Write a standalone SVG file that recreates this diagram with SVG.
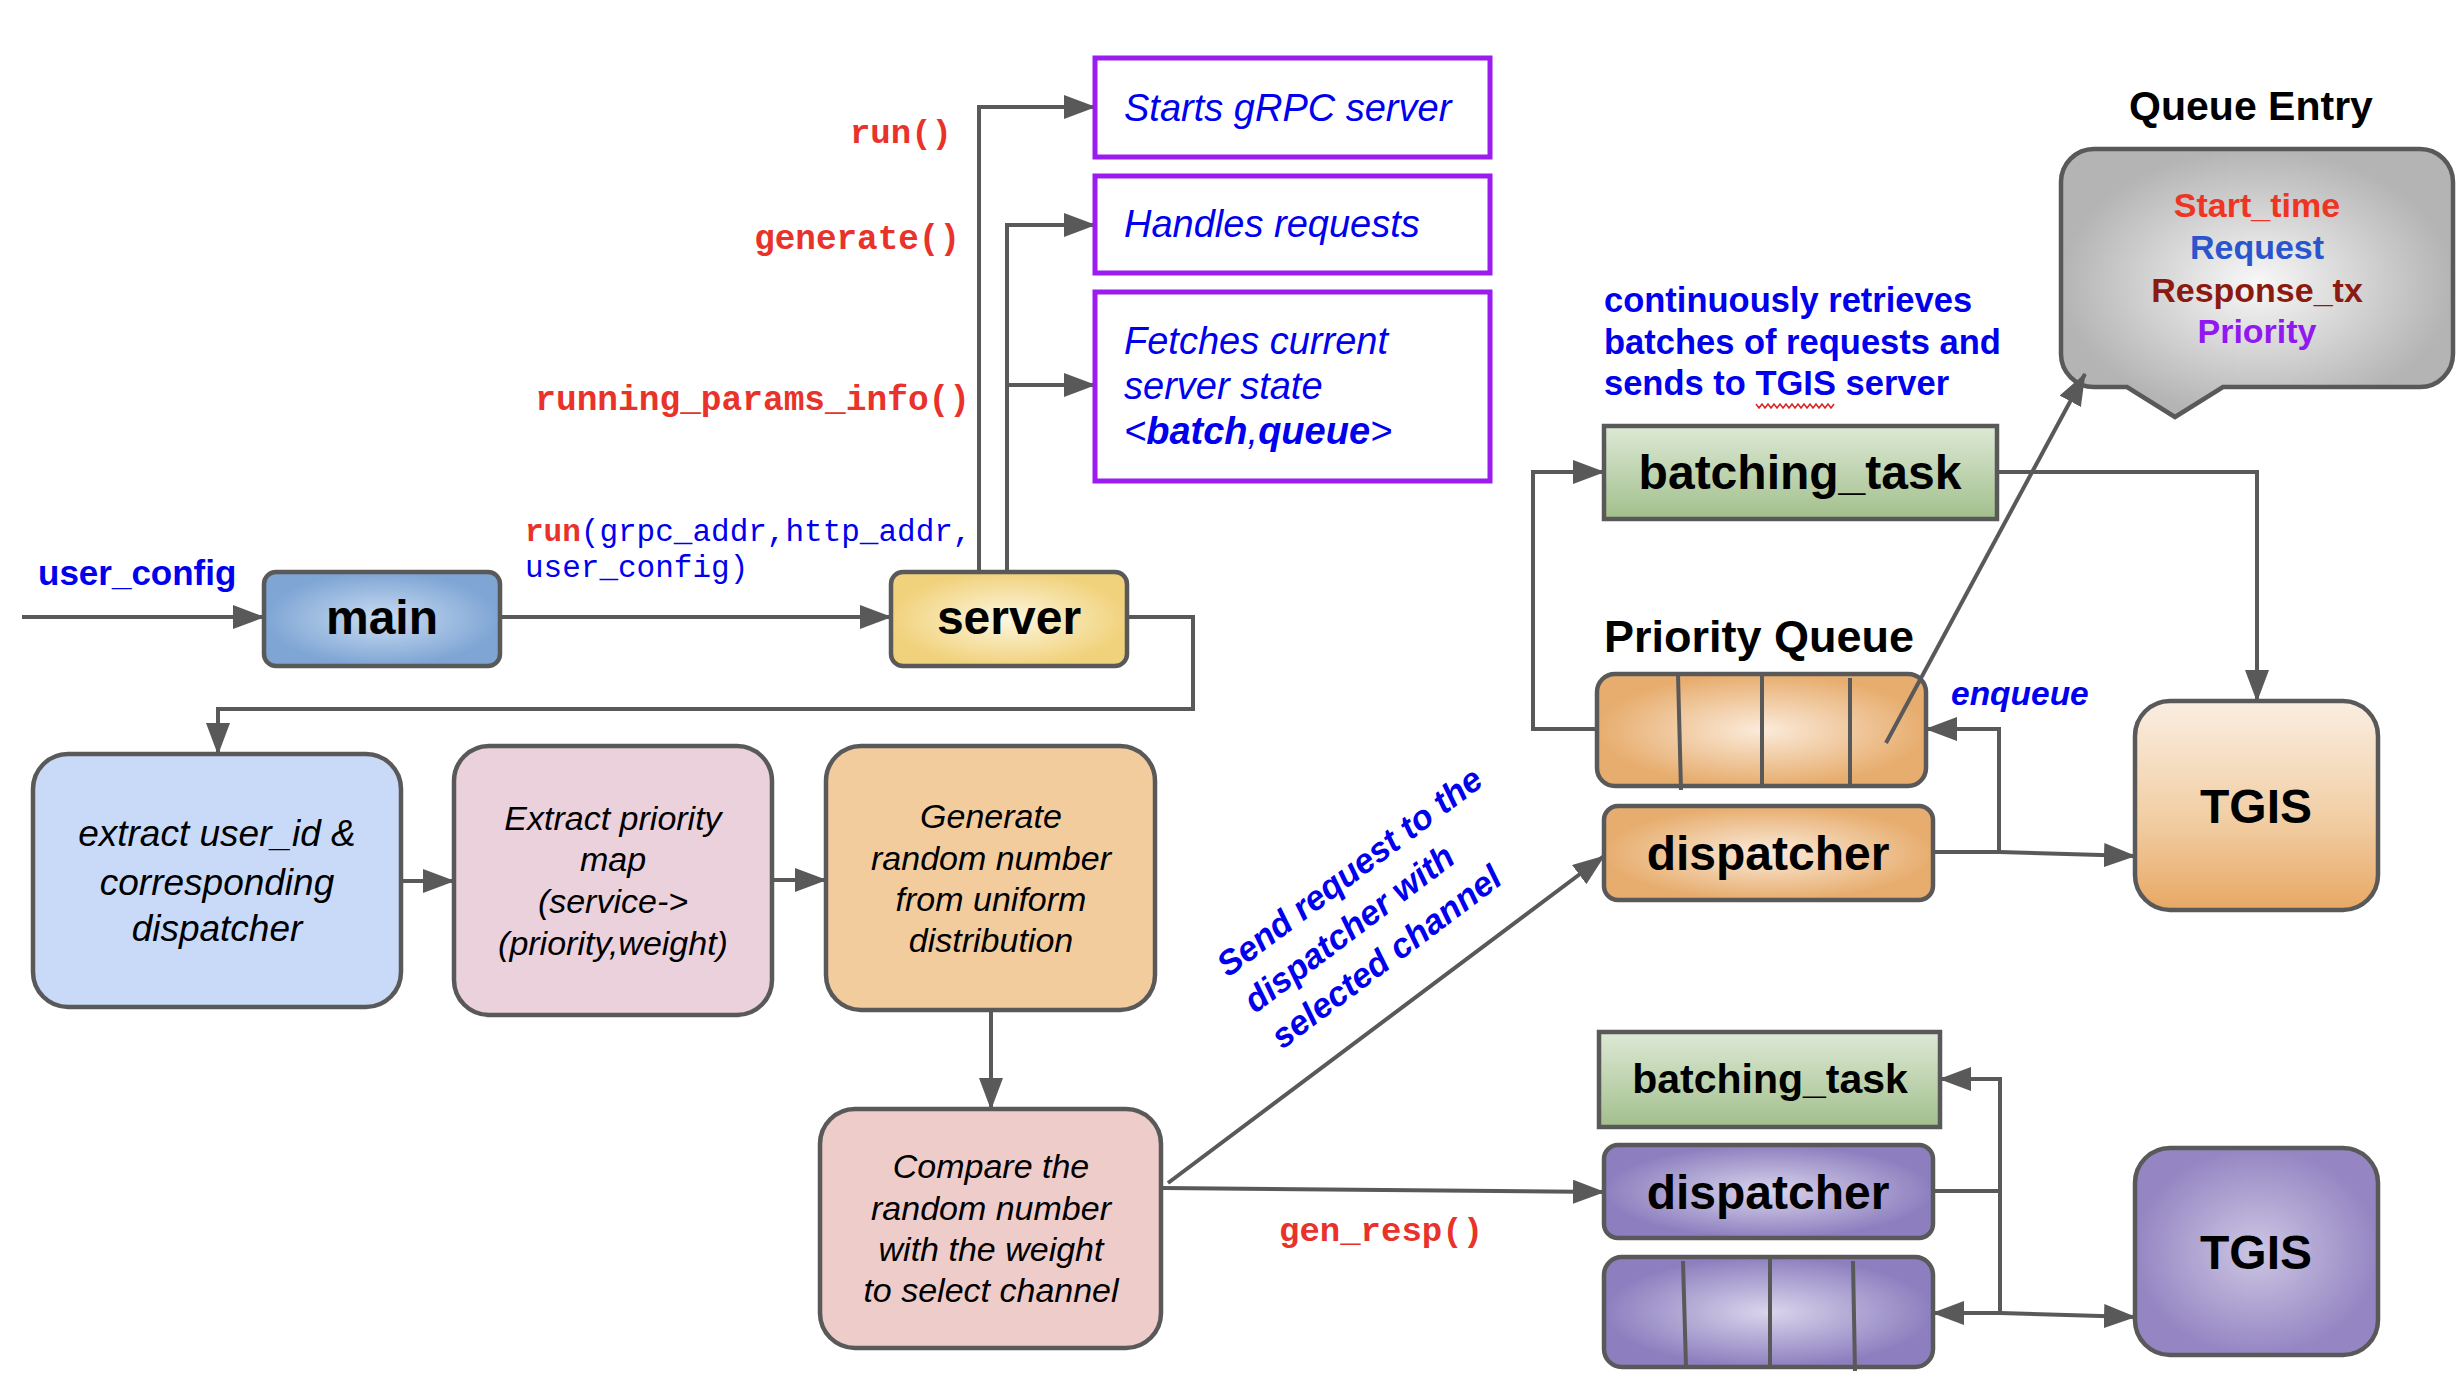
<svg xmlns="http://www.w3.org/2000/svg" width="2464" height="1374" viewBox="0 0 2464 1374">
<style>
.conn{stroke:#595959;stroke-width:4;fill:none}
.nd{stroke:#595959;stroke-width:4.5}
.pb{fill:#ffffff;stroke:#9a1cf0;stroke-width:5}
.sans{font-family:"Liberation Sans",Arial,sans-serif}
.mono{font-family:"Liberation Mono","Courier New",monospace}
.lbl{font-family:"Liberation Sans",Arial,sans-serif;font-weight:bold;font-size:48px;fill:#000;text-anchor:middle}
.it{font-family:"Liberation Sans",Arial,sans-serif;font-style:italic;fill:#000;text-anchor:middle}
.bl{fill:#0000ee}
.red{fill:#e8322a}
</style>
<defs>
<marker id="ah" markerUnits="userSpaceOnUse" markerWidth="32" markerHeight="24" refX="31" refY="12" orient="auto">
<path d="M0,0 L32,12 L0,24 z" fill="#595959"/>
</marker>
<radialGradient id="gMain"><stop offset="0" stop-color="#cadcf2"/><stop offset="1" stop-color="#7ea5d4"/></radialGradient>
<radialGradient id="gServer"><stop offset="0" stop-color="#fdf7e0"/><stop offset="1" stop-color="#f1d27c"/></radialGradient>
<radialGradient id="gOrange"><stop offset="0" stop-color="#fbebdb"/><stop offset="1" stop-color="#e7ad6e"/></radialGradient>
<linearGradient id="gTgisO" x1="0" y1="0" x2="0" y2="1"><stop offset="0" stop-color="#faeee1"/><stop offset="0.55" stop-color="#f2cfa6"/><stop offset="1" stop-color="#e8a865"/></linearGradient>
<linearGradient id="gGreen" x1="0" y1="0" x2="0" y2="1"><stop offset="0" stop-color="#dde9d6"/><stop offset="1" stop-color="#a2bf8c"/></linearGradient>
<radialGradient id="gPurple"><stop offset="0" stop-color="#dad5ec"/><stop offset="1" stop-color="#8d7fbf"/></radialGradient>
<radialGradient id="gTgisP"><stop offset="0" stop-color="#cdc6e3"/><stop offset="1" stop-color="#9586c3"/></radialGradient>
<radialGradient id="gBubble"><stop offset="0" stop-color="#f8f8f8"/><stop offset="1" stop-color="#b4b4b4"/></radialGradient>
</defs>

<rect width="2464" height="1374" fill="#ffffff"/>

<g id="connectors">
<path class="conn" d="M22,617 L264,617" marker-end="url(#ah)"/>
<path class="conn" d="M500,617 L891,617" marker-end="url(#ah)"/>
<path class="conn" d="M979,572 L979,107 L1095,107" marker-end="url(#ah)"/>
<path class="conn" d="M1007,572 L1007,225 L1095,225" marker-end="url(#ah)"/>
<path class="conn" d="M1007,385 L1095,385" marker-end="url(#ah)"/>
<path class="conn" d="M1127,617 L1193,617 L1193,709 L218,709 L218,754" marker-end="url(#ah)"/>
<path class="conn" d="M401,881 L454,881" marker-end="url(#ah)"/>
<path class="conn" d="M772,880 L826,880" marker-end="url(#ah)"/>
<path class="conn" d="M991,1010 L991,1109" marker-end="url(#ah)"/>
<path class="conn" d="M1168,1183 L1604,856" marker-end="url(#ah)"/>
<path class="conn" d="M1163,1188 L1604,1192" marker-end="url(#ah)"/>
<path class="conn" d="M1597,729 L1533,729 L1533,472 L1604,472" marker-end="url(#ah)"/>
<path class="conn" d="M1997,472 L2257,472 L2257,701" marker-end="url(#ah)"/>
<path class="conn" d="M1933,852 L1999,852 L1999,729 L1926,729" marker-end="url(#ah)"/>
<path class="conn" d="M1999,852 L2135,856" marker-end="url(#ah)"/>
<path class="conn" d="M1933,1191 L2000,1191"/>
<path class="conn" d="M2000,1313 L2000,1079 L1940,1079" marker-end="url(#ah)"/>
<path class="conn" d="M2000,1313 L1933,1313" marker-end="url(#ah)"/>
<path class="conn" d="M2000,1313 L2135,1317" marker-end="url(#ah)"/>
</g>

<g id="labels">
<text class="sans bl" x="38" y="585" font-size="35" font-weight="bold">user_config</text>
<text class="mono" x="525" y="541" font-size="31"><tspan class="red" font-weight="bold">run</tspan><tspan class="bl">(grpc_addr,http_addr,</tspan></text>
<text class="mono bl" x="525" y="577" font-size="31">user_config)</text>
<text class="mono red" x="952" y="143" font-size="34" font-weight="bold" text-anchor="end">run()</text>
<text class="mono red" x="960" y="249" font-size="34.3" font-weight="bold" text-anchor="end">generate()</text>
<text class="mono red" x="970" y="410" font-size="34.5" font-weight="bold" text-anchor="end">running_params_info()</text>
<text class="mono red" x="1279" y="1241" font-size="34" font-weight="bold">gen_resp()</text>
<g transform="translate(1228,978) rotate(-37)">
<text class="sans bl" font-size="34.5" font-weight="bold" font-style="italic"><tspan x="0" y="0">Send request to the</tspan><tspan x="0" y="45">dispatcher with</tspan><tspan x="0" y="90">selected channel</tspan></text>
</g>
<text class="sans bl" font-size="34.5" font-weight="bold"><tspan x="1604" y="312">continuously retrieves</tspan><tspan x="1604" y="354">batches of requests and</tspan><tspan x="1604" y="395">sends to TGIS server</tspan></text>
<polyline points="1756,404 1759,408 1762,404 1765,408 1768,404 1771,408 1774,404 1777,408 1780,404 1783,408 1786,404 1789,408 1792,404 1795,408 1798,404 1801,408 1804,404 1807,408 1810,404 1813,408 1816,404 1819,408 1822,404 1825,408 1828,404 1831,408 1834,404" fill="none" stroke="#e02020" stroke-width="1.5"/>
<text class="sans bl" x="1951" y="705" font-size="33.5" font-weight="bold" font-style="italic">enqueue</text>
<text class="sans" x="1604" y="652" font-size="45" font-weight="bold" fill="#000">Priority Queue</text>
<text class="sans" x="2251" y="120" font-size="41" font-weight="bold" fill="#000" text-anchor="middle">Queue Entry</text>
</g>

<g id="main">
<rect class="nd" x="264" y="572" width="236" height="94" rx="12" fill="url(#gMain)"/>
<text class="lbl" x="382" y="634">main</text>
</g>
<g id="server">
<rect class="nd" x="891" y="572" width="236" height="94" rx="12" fill="url(#gServer)"/>
<text class="lbl" x="1009" y="634">server</text>
</g>

<g id="starts-grpc">
<rect class="pb" x="1095" y="58" width="395" height="99"/>
<text class="sans bl" x="1124" y="121" font-size="38" font-style="italic">Starts gRPC server</text>
</g>
<g id="handles-requests">
<rect class="pb" x="1095" y="176" width="395" height="97"/>
<text class="sans bl" x="1124" y="237" font-size="38" font-style="italic">Handles requests</text>
</g>
<g id="fetches-state">
<rect class="pb" x="1095" y="292" width="395" height="189"/>
<text class="sans bl" font-size="38" font-style="italic"><tspan x="1124" y="354">Fetches current</tspan><tspan x="1124" y="399">server state</tspan><tspan x="1124" y="444">&lt;<tspan font-weight="bold">batch</tspan>,<tspan font-weight="bold">queue</tspan>&gt;</tspan></text>
</g>

<g id="extract-user">
<rect class="nd" x="33" y="754" width="368" height="253" rx="35" fill="#c9daf8"/>
<text class="it" font-size="37"><tspan x="217" y="846">extract user_id &amp;</tspan><tspan x="217" y="895">corresponding</tspan><tspan x="217" y="941">dispatcher</tspan></text>
</g>
<g id="extract-priority">
<rect class="nd" x="454" y="746" width="318" height="269" rx="35" fill="#ead1dc"/>
<text class="it" font-size="34"><tspan x="613" y="830">Extract priority</tspan><tspan x="613" y="871">map</tspan><tspan x="613" y="913">(service-&gt;</tspan><tspan x="613" y="955">(priority,weight)</tspan></text>
</g>
<g id="generate-random">
<rect class="nd" x="826" y="746" width="329" height="264" rx="35" fill="#f3cc9e"/>
<text class="it" font-size="34"><tspan x="991" y="828">Generate</tspan><tspan x="991" y="870">random number</tspan><tspan x="991" y="911">from uniform</tspan><tspan x="991" y="952">distribution</tspan></text>
</g>
<g id="compare">
<rect class="nd" x="820" y="1109" width="341" height="239" rx="35" fill="#eeccca"/>
<text class="it" font-size="34"><tspan x="991" y="1178">Compare the</tspan><tspan x="991" y="1220">random number</tspan><tspan x="991" y="1261">with the weight</tspan><tspan x="991" y="1302">to select channel</tspan></text>
</g>

<g id="batching-task-1">
<rect class="nd" x="1604" y="426" width="393" height="93" fill="url(#gGreen)"/>
<text class="lbl" x="1800" y="489">batching_task</text>
</g>
<g id="priority-queue-1">
<rect class="nd" x="1597" y="674" width="329" height="112" rx="18" fill="url(#gOrange)"/>
<line class="conn" x1="1678" y1="674" x2="1681" y2="790"/>
<line class="conn" x1="1762" y1="674" x2="1762" y2="786"/>
<line class="conn" x1="1850" y1="678" x2="1850" y2="786"/>
</g>
<g id="dispatcher-1">
<rect class="nd" x="1604" y="806" width="329" height="94" rx="14" fill="url(#gOrange)"/>
<text class="lbl" x="1768" y="870">dispatcher</text>
</g>
<g id="tgis-1">
<rect class="nd" x="2135" y="701" width="243" height="209" rx="35" fill="url(#gTgisO)"/>
<text class="lbl" x="2256" y="823">TGIS</text>
</g>
<g id="queue-entry">
<path class="nd" d="M2094,149 H2420 A33,33 0 0 1 2453,182 V354 A33,33 0 0 1 2420,387 H2223 L2175,417 L2127,387 H2094 A33,33 0 0 1 2061,354 V182 A33,33 0 0 1 2094,149 Z" fill="url(#gBubble)"/>
<text class="sans" font-size="34" font-weight="bold" text-anchor="middle"><tspan x="2257" y="217" fill="#ee3524">Start_time</tspan><tspan x="2257" y="259" fill="#2a55cc">Request</tspan><tspan x="2257" y="302" fill="#8b1a10">Response_tx</tspan><tspan x="2257" y="343" fill="#9118f0">Priority</tspan></text>
</g>

<g id="batching-task-2">
<rect class="nd" x="1599" y="1032" width="341" height="95" fill="url(#gGreen)"/>
<text class="lbl" x="1770" y="1093" style="font-size:41px">batching_task</text>
</g>
<g id="dispatcher-2">
<rect class="nd" x="1604" y="1145" width="329" height="93" rx="14" fill="url(#gPurple)"/>
<text class="lbl" x="1768" y="1209">dispatcher</text>
</g>
<g id="queue-2">
<rect class="nd" x="1604" y="1257" width="329" height="110" rx="18" fill="url(#gPurple)"/>
<line class="conn" x1="1683" y1="1261" x2="1686" y2="1367"/>
<line class="conn" x1="1770" y1="1257" x2="1770" y2="1367"/>
<line class="conn" x1="1853" y1="1261" x2="1855" y2="1371"/>
</g>
<g id="tgis-2">
<rect class="nd" x="2135" y="1148" width="243" height="207" rx="35" fill="url(#gTgisP)"/>
<text class="lbl" x="2256" y="1269">TGIS</text>
</g>

<g id="connectors-over">
<path class="conn" d="M1886,743 L2085,374" marker-end="url(#ah)"/>
</g>
</svg>
